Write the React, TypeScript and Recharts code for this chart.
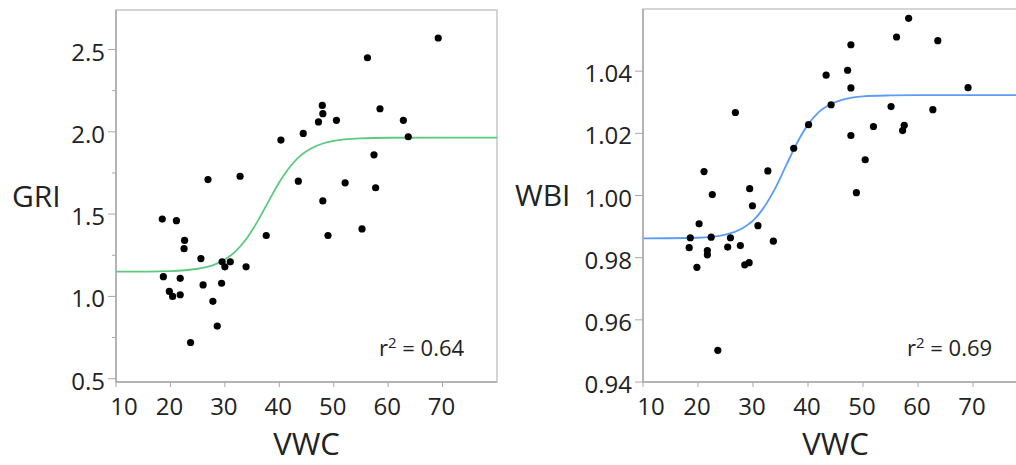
import React from 'react';
import {
  ComposedChart,
  Scatter,
  Line,
  XAxis,
  YAxis,
  ReferenceArea,
  Label,
} from 'recharts';

// GRI vs VWC (left panel)
const griVwc = [69.2, 56.2, 47.9, 48.0, 47.2, 50.5, 58.5, 62.8, 63.7, 44.4, 40.3, 57.4, 26.9, 32.8, 43.5, 52.1, 57.7, 48.0, 48.95, 55.2, 37.6, 18.5, 21.1, 22.6, 22.5, 25.6, 29.5, 31.0, 30.0, 33.9, 18.7, 21.8, 26.0, 29.4, 19.8, 20.4, 21.8, 27.8, 28.6, 23.7];
const griValues = [2.57, 2.45, 2.16, 2.11, 2.06, 2.07, 2.14, 2.07, 1.97, 1.99, 1.95, 1.86, 1.71, 1.73, 1.70, 1.69, 1.66, 1.58, 1.37, 1.41, 1.37, 1.47, 1.46, 1.34, 1.29, 1.23, 1.21, 1.21, 1.18, 1.18, 1.12, 1.11, 1.07, 1.08, 1.03, 1.00, 1.01, 0.97, 0.82, 0.72];
const griFitVwc = [10, 20, 25, 28, 30, 32, 34, 36, 38, 40, 42, 44, 46, 48, 50, 55, 60, 70, 80];
const griFitValues = [1.15, 1.154, 1.168, 1.192, 1.224, 1.275, 1.352, 1.456, 1.576, 1.693, 1.789, 1.858, 1.902, 1.929, 1.945, 1.96, 1.964, 1.965, 1.965];
const griTicks = [0.5, 0.75, 1.0, 1.25, 1.5, 1.75, 2.0, 2.25, 2.5];

// WBI vs VWC (right panel)
const wbiVwc = [58.3, 56.1, 63.6, 47.8, 47.2, 43.3, 47.8, 69.1, 44.2, 55.1, 62.7, 26.8, 40.1, 51.9, 57.5, 57.2, 47.8, 37.4, 50.4, 21.1, 32.7, 29.4, 22.6, 48.8, 29.9, 30.9, 20.2, 18.6, 22.4, 25.9, 33.7, 18.4, 25.4, 27.7, 21.7, 21.7, 28.5, 29.3, 19.8, 23.6];
const wbiValues = [1.057, 1.051, 1.0498, 1.0485, 1.0403, 1.0387, 1.0346, 1.0347, 1.0292, 1.0286, 1.0276, 1.0267, 1.0228, 1.0222, 1.0226, 1.0209, 1.0193, 1.0152, 1.0115, 1.0077, 1.0079, 1.0022, 1.0003, 1.0009, 0.9967, 0.9903, 0.9909, 0.9864, 0.9866, 0.9864, 0.9853, 0.9832, 0.9834, 0.9839, 0.9823, 0.9809, 0.9777, 0.9784, 0.9769, 0.9502];
const wbiFitVwc = [10, 20, 25, 28, 30, 32, 34, 36, 38, 40, 42, 44, 46, 48, 50, 55, 60, 70, 80];
const wbiFitValues = [0.9862, 0.9864, 0.9874, 0.9894, 0.9919, 0.9962, 1.0022, 1.0096, 1.0169, 1.0228, 1.0269, 1.0293, 1.0307, 1.0315, 1.0319, 1.0322, 1.0323, 1.0323, 1.0323];
const wbiTicks = [0.94, 0.96, 0.98, 1.0, 1.02, 1.04];

const vwcTicks = [10, 20, 30, 40, 50, 60, 70];

const FONT = '"Open Sans", "Noto Sans", sans-serif';
const TEXT = '#222';
const AXIS = '#a8a8a8';
const FRAME = '#c8c8c8';

const toPoints = (xs: number[], ys: number[]) => xs.map((x, i) => ({ x, y: ys[i] }));

const Dot = (props: any) => <circle cx={props.cx} cy={props.cy} r={3.6} fill="#000" />;

const makeYTick = (digits: number, isMajor: (v: number) => boolean) => (props: any) => {
  const { x, y, payload } = props;
  const v = payload.value as number;
  const major = isMajor(v);
  return (
    <g>
      <line x1={x - (major ? 8 : 4)} x2={x} y1={y} y2={y} stroke={AXIS} />
      {major && (
        <text x={x - 11} y={y + 11} textAnchor="end" fontSize={24} fill={TEXT} fontFamily={FONT}>
          {v.toFixed(digits)}
        </text>
      )}
    </g>
  );
};

const XTick = (props: any) => {
  const { x, y, payload } = props;
  const v = payload.value as number;
  const shift = v === 10 ? 8 : -1;
  return (
    <g>
      <line x1={x} x2={x} y1={y} y2={y + 5} stroke={AXIS} />
      <text x={x + shift} y={y + 33} textAnchor="middle" fontSize={24} fill={TEXT} fontFamily={FONT}>
        {v}
      </text>
    </g>
  );
};

interface PanelProps {
  name: string;
  color: string;
  points: { x: number; y: number }[];
  fit: { x: number; y: number }[];
  yDomain: [number, number];
  yTicks: number[];
  yTick: (p: any) => React.ReactElement;
  width: number;
  yAxisWidth: number;
  top: number;
  right: number;
  labelOffset: number;
}

function Panel({ name, color, points, fit, yDomain, yTicks, yTick, width, yAxisWidth, top, right, labelOffset }: PanelProps) {
  return (
    <ComposedChart width={width} height={465} margin={{ top, right, bottom: 0, left: 0 }}>
      <ReferenceArea x1={10} x2={80} y1={yDomain[0]} y2={yDomain[1]} fill="none" stroke={FRAME} strokeWidth={1.5} />
      <XAxis
        type="number"
        dataKey="x"
        domain={[10, 80]}
        ticks={vwcTicks}
        interval={0}
        height={83}
        allowDataOverflow
        tickSize={0}
        tickMargin={0}
        tickLine={false}
        axisLine={{ stroke: AXIS, strokeWidth: 1.5 }}
        tick={XTick}
      >
        <Label value="VWC" position="insideBottom" offset={10} fontSize={31} fill={TEXT} fontFamily={FONT} />
      </XAxis>
      <YAxis
        type="number"
        dataKey="y"
        domain={yDomain}
        ticks={yTicks}
        interval={0}
        width={yAxisWidth}
        allowDataOverflow
        tickSize={0}
        tickMargin={0}
        tickLine={false}
        axisLine={{ stroke: AXIS, strokeWidth: 1.5 }}
        tick={yTick}
      >
        <Label value={name} position="insideLeft" offset={labelOffset} fontSize={30} fill={TEXT} fontFamily={FONT} />
      </YAxis>
      <Line data={fit} dataKey="y" type="monotone" stroke={color} strokeWidth={1.8} dot={false} isAnimationActive={false} />
      <Scatter data={points} dataKey="y" shape={Dot} isAnimationActive={false} />
    </ComposedChart>
  );
}

const rStyle: React.CSSProperties = {
  position: 'absolute',
  fontFamily: FONT,
  fontSize: 22,
  color: TEXT,
  lineHeight: 1,
  whiteSpace: 'nowrap',
};

export default function App() {
  return (
    <div style={{ position: 'absolute', top: 0, left: 0, width: 1016, height: 465, overflow: 'hidden', background: '#fff' }}>
      <div style={{ position: 'absolute', left: 0, top: 0 }}>
        <Panel
          name="GRI"
          color="#5cc97f"
          points={toPoints(griVwc, griValues)}
          fit={toPoints(griFitVwc, griFitValues)}
          yDomain={[0.48, 2.74]}
          yTicks={griTicks}
          yTick={makeYTick(1, (v) => Math.abs(v * 2 - Math.round(v * 2)) < 1e-6)}
          width={500}
          yAxisWidth={116}
          top={10}
          right={3}
          labelOffset={12}
        />
      </div>
      <div style={{ position: 'absolute', left: 500, top: 0 }}>
        <Panel
          name="WBI"
          color="#5b9cf6"
          points={toPoints(wbiVwc, wbiValues)}
          fit={toPoints(wbiFitVwc, wbiFitValues)}
          yDomain={[0.94, 1.06]}
          yTicks={wbiTicks}
          yTick={makeYTick(2, () => true)}
          width={528}
          yAxisWidth={143}
          top={9}
          right={0}
          labelOffset={15}
        />
      </div>
      <div style={{ ...rStyle, left: 379, top: 335 }}>
        r<sup style={{ fontSize: 15 }}>2</sup> = 0.64
      </div>
      <div style={{ ...rStyle, left: 907, top: 335 }}>
        r<sup style={{ fontSize: 15 }}>2</sup> = 0.69
      </div>
    </div>
  );
}
